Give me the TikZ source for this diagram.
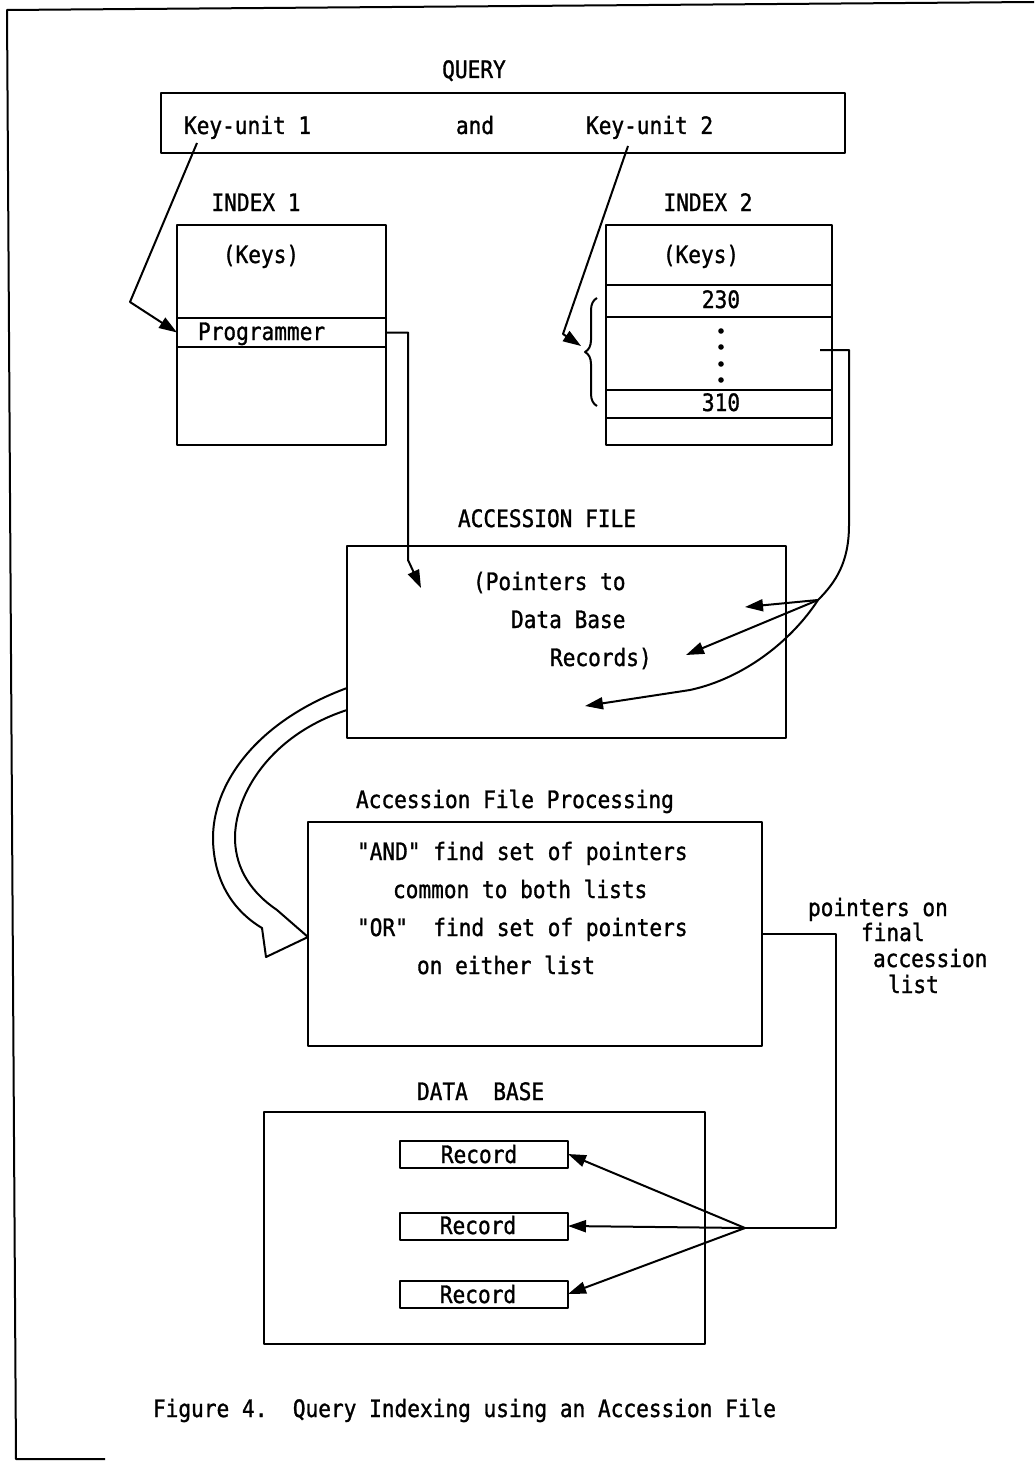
\documentclass[tikz,border=0pt]{standalone}
\usepackage{fontspec}
\newfontfamily\tw[FakeStretch=0.88,FakeBold=1.2]{DejaVu Sans Mono}
\usetikzlibrary{arrows.meta,decorations.pathreplacing,calc}
\begin{document}
\begin{tikzpicture}[x=1pt,y=-1pt,line width=2pt,line join=round,
  box/.style={draw,rectangle,inner sep=0pt,outer sep=0pt,anchor=north west},
  lbl/.style={font=\tw\fontsize{24}{28}\selectfont,inner sep=0pt},
  tip/.style={-{Triangle[length=18pt,width=12pt]}},
  recbox/.style={draw,rectangle,inner sep=0pt,outer sep=0pt,minimum width=168pt,minimum height=27pt}
]
\useasboundingbox (0,0) rectangle (1034,1461);
% frame
\draw (1034,2) -- (7,10) -- (16,1459) -- (105,1459);

% query
\node[lbl,anchor=base] (qlabel) at (474,78) {QUERY};
\node[box,minimum width=684pt,minimum height=60pt] (query) at (161,93) {};
\node[lbl,anchor=base west] (k1) at (183,134) {Key-unit 1};
\node[lbl,anchor=base] (and) at (475,134) {and};
\node[lbl,anchor=base west] (k2) at (585,134) {Key-unit 2};

% index 1
\node[lbl,anchor=base] (i1label) at (256,211) {INDEX 1};
\node[box,minimum width=209pt,minimum height=93pt] (i1a) at (177,225) {};
\node[box,minimum width=209pt,minimum height=29pt] (i1b) at (177,318) {};
\node[box,minimum width=209pt,minimum height=98pt] (i1c) at (177,347) {};
\node[lbl,anchor=base] (i1keys) at (261,263) {(Keys)};
\node[lbl,anchor=base west] (prog) at (197,340) {Programmer};

% index 2
\node[lbl,anchor=base] (i2label) at (708,211) {INDEX 2};
\node[box,minimum width=226pt,minimum height=60pt] (i2a) at (606,225) {};
\node[box,minimum width=226pt,minimum height=32pt] (i2b) at (606,285) {};
\node[box,minimum width=226pt,minimum height=73pt] (i2c) at (606,317) {};
\node[box,minimum width=226pt,minimum height=28pt] (i2d) at (606,390) {};
\node[box,minimum width=226pt,minimum height=27pt] (i2e) at (606,418) {};
\node[lbl,anchor=base] (i2keys) at (701,263) {(Keys)};
\node[lbl,anchor=base] (v230) at (721,308) {230};
\node[lbl,anchor=base] (v310) at (721,411) {310};
\foreach \yy in {331,347,364,380} \fill (721,\yy) circle (2.8pt);
\draw[decorate,decoration={brace,amplitude=12pt}] (597,406) -- (597,298);

% accession file
\node[lbl,anchor=base] (acclabel) at (547,527) {ACCESSION FILE};
\node[box,minimum width=439pt,minimum height=192pt] (acc) at (347,546) {};
\node[lbl,anchor=base west] (p1) at (472,590) {(Pointers to};
\node[lbl,anchor=base west] (p2) at (510,628) {Data Base};
\node[lbl,anchor=base west] (p3) at (549,666) {Records)};

% processing
\node[lbl,anchor=base west] (proclabel) at (355,808) {Accession File Processing};
\node[box,minimum width=454pt,minimum height=224pt] (proc) at (308,822) {};
\node[lbl,anchor=base west] (t1) at (356,860) {"AND" find set of pointers};
\node[lbl,anchor=base west] (t2) at (392,898) {common to both lists};
\node[lbl,anchor=base west] (t3) at (356,936) {"OR"\ \ find set of pointers};
\node[lbl,anchor=base west] (t4) at (416,974) {on either list};

% pointers label
\node[lbl,anchor=base west] (f1) at (807,916) {pointers on};
\node[lbl,anchor=base west] (f2) at (860,941) {final};
\node[lbl,anchor=base west] (f3) at (872,967) {accession};
\node[lbl,anchor=base west] (f4) at (887,993) {list};

% data base
\node[lbl,anchor=base west] (dblabel) at (416,1100) {DATA\ \ BASE};
\node[box,minimum width=441pt,minimum height=232pt] (db) at (264,1112) {};
\node[recbox] (r1) at (484,1154) {};
\node[recbox] (r2) at (484,1226) {};
\node[recbox] (r3) at (484,1294) {};
\node[lbl,anchor=base] (rt1) at (479,1163) {Record};
\node[lbl,anchor=base] (rt2) at (478,1234) {Record};
\node[lbl,anchor=base] (rt3) at (478,1303) {Record};

% caption
\node[lbl,anchor=base west] (cap) at (152,1417) {Figure 4.\ \ Query Indexing using an Accession File};

% connectors
\coordinate (k1s) at (197,143);
\coordinate (k2s) at (628,146);
\coordinate (btip) at (581,346);
\draw[tip] (k1s) -- (130,302) -- (i1b.west);
\draw[tip] (k2s) -- (563,334) -- (btip);

\coordinate (pA) at (421,588);
\draw[tip] (i1b.east) -- (408,332.5) -- (408,560) -- (pA);

\coordinate (i2s) at (820,350);
\coordinate (fan1) at (818,600);
\coordinate (a1) at (745,607);
\coordinate (a2) at (686,655);
\coordinate (a3) at (585,706);
\draw[tip] (i2s) -- (849,350) -- (849,525) .. controls (849,562) and (836,582) .. (fan1)
  .. controls (792,640) and (745,678) .. (690,690) -- (a3);
\draw[tip] (fan1) -- (a1);
\draw[tip] (fan1) -- (a2);

% hollow arrow
\draw (347,688) .. controls (255,722) and (212,785) .. (213,840)
  .. controls (214,880) and (232,910) .. (262,928)
  -- (266,957) -- (308,937) -- (277,910)
  .. controls (252,893) and (236,870) .. (235,840)
  .. controls (234,795) and (270,735) .. (347,710);

% to data base
\coordinate (fan2) at (745,1228);
\draw (proc.east) -- ++(74,0) |- (fan2);
\draw[tip] (fan2) -- (r1.east);
\draw[tip] (fan2) -- (r2.east);
\draw[tip] (fan2) -- (r3.east);
\end{tikzpicture}
\end{document}
